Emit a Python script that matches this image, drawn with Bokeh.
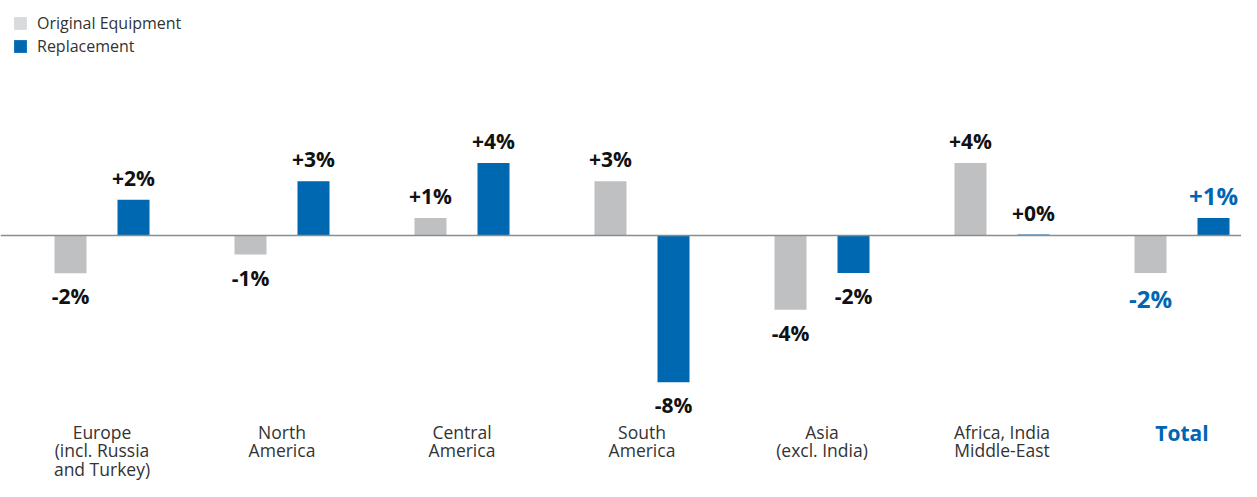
from bokeh.plotting import figure
from bokeh.models import ColumnDataSource, Range1d, Span, Legend, LegendItem
from bokeh.core.properties import value
from bokeh.embed import file_html
from bokeh.resources import INLINE

# ---- data ----
categories = ["Europe\n(incl. Russia\nand Turkey)", "North\nAmerica", "Central\nAmerica",
              "South\nAmerica", "Asia\n(excl. India)", "Africa, India\nMiddle-East", "Total"]
original_equipment = [-2.07, -1.05, 0.96, 2.98, -4.08, 3.99, -2.06]
replacement = [1.97, 2.98, 3.99, -8.07, -2.06, 0.05, 0.96]
series_names = ["Original Equipment", "Replacement"]

# ---- styling / layout constants ----
W, H = 1241, 481
S = 18.2            # px per percentage point
FY0 = 235           # zero line, px from top of frame
GX0 = 101.5         # first group centre, px from left
GP = 180.0          # group pitch, px
OFF = 31.5 / GP
BW = 32 / GP
GRAY_BAR = "#bfc0c2"
GRAY_LEG = "#d9dadb"
BLUE = "#0067b1"
LABEL_BLUE = "#0066b3"
FONT = "Open Sans"

def py(fy):  # px from top -> data y
    return (FY0 - fy) / S

p = figure(width=W, height=H, output_backend="svg", toolbar_location=None,
           x_range=Range1d(-GX0 / GP, (W - GX0) / GP),
           y_range=Range1d(-(H - FY0) / S, FY0 / S),
           min_border=0, outline_line_color=None)
p.axis.visible = False
p.grid.visible = False
p.background_fill_color = "white"

n = len(categories)
idx = list(range(n))
xo = [i - OFF for i in idx]
xr = [i + OFF for i in idx]

p.add_layout(Span(location=0, dimension="width", line_color="#8c8c8c", line_width=1.5))

p.vbar(x=xo, top=original_equipment, bottom=0, width=BW, fill_color=GRAY_BAR, line_color=None)
p.vbar(x=xr, top=replacement, bottom=0, width=BW, fill_color=BLUE, line_color=None)

# value labels
def fmt(v):
    return f"{int(round(v)):+d}%"

lx, ly, lt, loff, lcol, lsz = [], [], [], [], [], []
for i in idx:
    total = (i == n - 1)
    for x, v in ((xo[i], original_equipment[i]), (xr[i], replacement[i])):
        lx.append(x); ly.append(v); lt.append(fmt(v))
        if total:
            loff.append(-23 if v >= 0 else 26)
            lcol.append(LABEL_BLUE); lsz.append("24px")
        else:
            loff.append(-22 if v >= 0 else 23)
            lcol.append("#111111"); lsz.append("21px")
vsrc = ColumnDataSource(dict(x=lx, y=ly, t=lt, off=loff, c=lcol, s=lsz))
p.text(x="x", y="y", text="t", y_offset="off", source=vsrc, text_color="c",
       text_font=value(FONT), text_font_size="s", text_font_style="bold",
       text_align="center", text_baseline="middle")

# category labels
cx, cy, ct = [], [], []
for i, c in enumerate(categories[:-1]):
    for k, line in enumerate(c.split("\n")):
        cx.append(i); cy.append(py(431 + 18.8 * k)); ct.append(line)
p.text(x=cx, y=cy, text=ct, text_color="#333333", text_font=value(FONT),
       text_font_size="17.5px", text_align="center", text_baseline="middle")
p.text(x=[n - 1], y=[py(432)], text=[categories[-1]], text_color=LABEL_BLUE, text_font=value(FONT),
       text_font_size="21px", text_font_style="bold", text_align="center", text_baseline="middle")

# legend (legend-only renderers, nothing drawn in the plot)
nan = float("nan")
r1 = p.vbar(x=[nan], top=[0], width=0.1, fill_color=GRAY_LEG, line_color=None)
r2 = p.vbar(x=[nan], top=[0], width=0.1, fill_color=BLUE, line_color=None)
legend = Legend(items=[LegendItem(label=series_names[0], renderers=[r1]),
                       LegendItem(label=series_names[1], renderers=[r2])],
                location="top_left", margin=12, padding=0, spacing=1,
                glyph_width=16, glyph_height=16, label_height=20, label_standoff=9,
                label_text_font=FONT, label_text_font_size="16px", label_text_color="#333333",
                border_line_color=None, background_fill_alpha=0)
p.add_layout(legend)

open("out.html", "w").write(file_html(p, INLINE))
